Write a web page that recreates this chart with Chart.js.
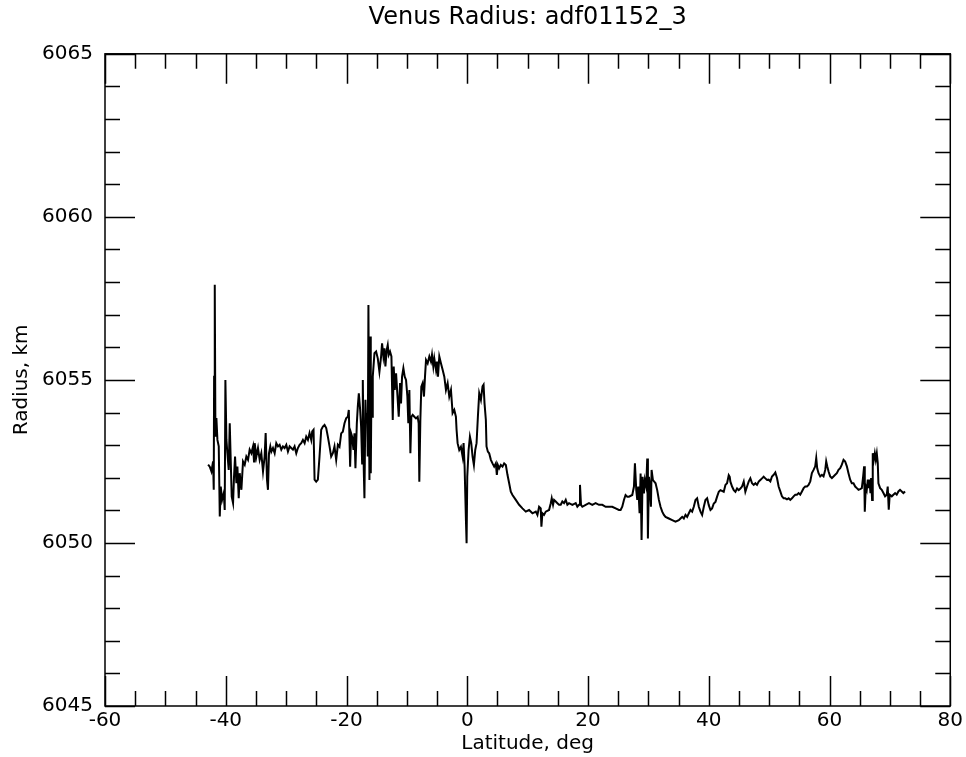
<!DOCTYPE html>
<html lang="en">
<head>
  <meta charset="UTF-8">
  <title>Venus Radius: adf01152_3</title>
  <script src="https://cdn.jsdelivr.net/npm/chart.js"></script>
  <style>
    body {
      margin: 0;
      background-color: #fff;
    }
    #wrap {
      width: 966px;
      height: 757px;
    }
  </style>
</head>
<body>
  <div id="wrap"><canvas id="radiusChart" width="966" height="757"></canvas></div>

  <script>
    const latTicks = [-60, -40, -20, 0, 20, 40, 60, 80];
    const radiusTicks = [6045, 6050, 6055, 6060, 6065];

    // latitude, deg
    const latitude = [
      -42.92, -42.65, -42.37, -42.10, -41.99, -41.93, -41.82, -41.71, -41.55, -41.38,
      -41.16, -40.99, -40.83, -40.61, -40.33, -40.17, -40.06, -39.89, -39.73, -39.51,
      -39.34, -39.18, -39.01, -38.79, -38.63, -38.46, -38.24, -38.07, -37.85, -37.69,
      -37.41, -37.14, -36.86, -36.59, -36.31, -36.04, -35.76, -35.48, -35.32, -35.21,
      -34.93, -34.66, -34.38, -34.11, -33.83, -33.56, -33.39, -33.17, -33.01, -32.84,
      -32.62, -32.45, -32.18, -31.90, -31.63, -31.35, -31.08, -30.80, -30.53, -30.25,
      -29.97, -29.70, -29.42, -29.15, -28.87, -28.60, -28.32, -28.05, -27.77, -27.50,
      -27.22, -26.94, -26.67, -26.39, -26.12, -25.84, -25.68, -25.46, -25.29, -25.02,
      -24.74, -24.47, -24.19, -23.91, -23.64, -23.36, -23.09, -22.81, -22.54, -22.26,
      -21.99, -21.71, -21.43,
      -21.16, -20.88, -20.61, -20.33, -20.06, -19.78, -19.62, -19.40, -19.23, -19.07,
      -18.85, -18.68, -18.52, -18.29, -18.13, -17.96, -17.74, -17.58, -17.41, -17.30,
      -17.14, -17.03, -16.86, -16.75, -16.59, -16.48, -16.37, -16.26, -16.20, -16.09,
      -15.98, -15.87, -15.76, -15.65, -15.37, -15.10, -14.82, -14.55, -14.27, -14.11,
      -13.89, -13.72, -13.56, -13.34, -13.17, -13.01, -12.79, -12.56, -12.34, -12.18,
      -12.01, -11.79, -11.52, -11.35, -11.13, -10.97, -10.80, -10.58, -10.36, -10.14,
      -9.92, -9.76, -9.59, -9.42, -9.26, -9.04, -8.76, -8.49, -8.21, -8.05,
      -7.94, -7.77, -7.61, -7.39, -7.17, -7.00, -6.83, -6.56, -6.28, -6.01,
      -5.84, -5.62, -5.46, -5.18, -5.02, -4.85, -4.63, -4.36, -4.08, -3.80,
      -3.53, -3.25, -2.98, -2.70, -2.43, -2.15, -1.88, -1.77, -1.60, -1.33,
      -1.05, -0.77, -0.61, -0.44, -0.22, -0.11, 0.00, 0.22, 0.44, 0.66,
      0.88, 1.10, 1.32, 1.54, 1.76, 1.98,
      2.26, 2.53, 2.70, 2.86, 3.08, 3.19, 3.41, 3.63, 3.91, 4.18,
      4.46, 4.73, 4.90, 5.07, 5.29, 5.56, 5.84, 6.11, 6.39, 6.66,
      6.94, 7.21, 7.49, 8.04, 8.59, 9.14, 9.69, 10.24, 10.80, 11.35,
      11.62, 11.90, 12.17, 12.28, 12.45, 12.72, 13.00, 13.55, 13.83, 13.99,
      14.21, 14.38, 14.65, 14.93, 15.20, 15.48, 15.75, 16.03, 16.31, 16.58,
      16.86, 17.41, 17.96, 18.23, 18.51, 18.67, 18.84, 19.06, 19.61, 20.16,
      20.71, 21.26, 21.81, 22.37, 22.92, 23.47, 24.02, 24.57, 25.12, 25.40,
      25.67, 25.95, 26.22, 26.50, 26.78,
      27.33, 27.61, 27.77, 27.99, 28.16, 28.32, 28.54, 28.71, 28.87, 29.04,
      29.26, 29.42, 29.64, 29.81, 29.92, 30.09, 30.25, 30.42, 30.53, 30.75,
      30.97, 31.19, 31.46, 31.74, 32.01, 32.29, 32.57, 32.84, 33.39, 33.94,
      34.49, 35.04, 35.32, 35.60, 35.87, 36.15, 36.42, 36.70, 36.97, 37.25,
      37.52, 37.80, 38.07, 38.35, 38.63, 38.90, 39.18, 39.45, 39.73, 40.00,
      40.28, 40.55, 40.83, 41.11, 41.38, 41.66, 41.93, 42.48, 42.76, 43.03,
      43.31, 43.47, 43.58, 43.86, 44.14, 44.41, 44.69, 44.96, 45.24, 45.51,
      45.79, 46.06, 46.34, 46.61, 46.89, 47.17, 47.44, 47.72, 47.99, 48.27,
      48.54, 48.82, 49.09, 49.37, 49.65, 49.92,
      50.20, 50.47, 50.75, 51.02, 51.30, 51.57, 51.85, 52.12, 52.40, 52.67,
      52.95, 53.23, 53.50, 53.78, 54.05, 54.33, 54.60, 54.88, 55.15, 55.43,
      55.71, 55.98, 56.26, 56.53, 56.81, 57.08, 57.36, 57.63, 57.80, 57.96,
      58.18, 58.46, 58.74, 59.01, 59.29, 59.45, 59.62, 59.84, 60.11, 60.39,
      60.66, 60.94, 61.21, 61.49, 61.77, 62.04, 62.32, 62.59, 62.87, 63.14,
      63.42, 63.69, 63.97, 64.25, 64.52, 64.80, 65.07, 65.35, 65.57, 65.73,
      65.84, 66.01, 66.17, 66.34, 66.45, 66.61, 66.78, 66.89, 67.05, 67.16,
      67.33, 67.50, 67.66, 67.83, 67.99, 68.10, 68.38, 68.65, 68.93, 69.20,
      69.48, 69.64, 69.81, 69.97, 70.31, 70.58, 70.86, 71.13, 71.41, 71.68,
      71.96, 72.23, 72.51
    ];

    // radius, km
    const radius = [
      6052.40, 6052.34, 6052.19, 6052.50, 6051.63, 6055.10, 6057.92, 6053.26, 6053.83, 6053.16,
      6052.96, 6050.81, 6051.73, 6051.32, 6051.53, 6051.01, 6055.00, 6053.16, 6052.75, 6052.24,
      6053.67, 6052.55, 6051.42, 6051.22, 6052.04, 6052.65, 6051.83, 6052.34, 6051.37, 6052.14,
      6051.63, 6052.50, 6052.40, 6052.65, 6052.55, 6052.86, 6052.75, 6052.96, 6052.50, 6053.06,
      6052.65, 6052.91, 6052.55, 6052.75, 6052.19, 6052.65, 6053.37, 6051.94, 6051.63, 6052.75,
      6052.96, 6052.80, 6052.91, 6052.75, 6053.06, 6052.96, 6053.01, 6052.86, 6052.96, 6052.91,
      6053.01, 6052.80, 6052.96, 6052.91, 6052.86, 6052.96, 6052.75, 6052.91, 6053.01, 6053.06,
      6053.16, 6053.06, 6053.26, 6053.16, 6053.37, 6053.16, 6053.42, 6053.47, 6051.94, 6051.88,
      6051.94, 6052.65, 6053.47, 6053.57, 6053.62, 6053.52, 6053.26, 6052.96, 6052.65, 6052.75,
      6052.96, 6052.55, 6053.01,
      6052.95, 6053.36, 6053.41, 6053.67, 6053.82, 6053.87, 6054.08, 6052.34, 6053.36, 6053.26,
      6052.85, 6053.36, 6052.29, 6053.67, 6054.18, 6054.59, 6054.08, 6053.57, 6052.44, 6055.00,
      6052.24, 6051.37, 6054.39, 6053.67, 6053.98, 6052.65, 6057.30, 6053.47, 6051.93, 6056.33,
      6052.14, 6054.69, 6053.87, 6055.10, 6055.82, 6055.87, 6055.66, 6055.25, 6055.72, 6056.12,
      6055.72, 6055.97, 6055.41, 6055.92, 6056.07, 6055.77, 6055.87, 6055.72, 6053.77, 6055.41,
      6054.69, 6055.20, 6054.39, 6053.87, 6054.90, 6054.28, 6055.10, 6055.36, 6055.10, 6055.00,
      6054.49, 6053.67, 6054.69, 6052.75, 6053.87, 6053.93, 6053.87, 6053.82, 6053.87, 6053.67,
      6051.88, 6053.77, 6054.79, 6054.90, 6054.49, 6055.10, 6055.61, 6055.51, 6055.72, 6055.56,
      6055.77, 6055.41, 6055.66, 6055.31, 6055.56, 6055.10, 6055.72, 6055.51, 6055.31, 6055.10,
      6054.69, 6054.90, 6054.49, 6054.69, 6053.98, 6054.08, 6053.87, 6053.47, 6053.06, 6052.85,
      6052.95, 6052.65, 6053.06, 6052.34, 6050.70, 6049.99, 6052.03, 6052.85, 6053.26, 6053.06,
      6052.65, 6052.39, 6052.85, 6053.06, 6053.87, 6054.59,
      6054.39, 6054.80, 6054.85, 6054.28, 6053.77, 6052.96, 6052.80, 6052.75, 6052.55, 6052.44,
      6052.34, 6052.44, 6052.09, 6052.39, 6052.29, 6052.39, 6052.34, 6052.44, 6052.39, 6052.09,
      6051.83, 6051.57, 6051.47, 6051.32, 6051.17, 6051.06, 6050.96, 6051.01, 6050.91, 6050.96,
      6050.86, 6051.11, 6051.06, 6050.50, 6050.91, 6050.86, 6050.96, 6051.01, 6051.22, 6051.37,
      6051.17, 6051.32, 6051.27, 6051.22, 6051.17, 6051.17, 6051.27, 6051.22, 6051.32, 6051.17,
      6051.22, 6051.17, 6051.22, 6051.11, 6051.17, 6051.78, 6051.17, 6051.11, 6051.17, 6051.22,
      6051.17, 6051.22, 6051.17, 6051.17, 6051.11, 6051.11, 6051.11, 6051.06, 6051.01, 6051.01,
      6051.11, 6051.32, 6051.47, 6051.42, 6051.42,
      6051.47, 6051.73, 6052.44, 6051.62, 6051.32, 6051.73, 6050.91, 6052.13, 6050.09, 6052.03,
      6051.52, 6051.93, 6051.73, 6052.59, 6050.14, 6052.03, 6051.73, 6051.11, 6052.24, 6051.93,
      6051.88, 6051.83, 6051.62, 6051.32, 6051.11, 6050.96, 6050.86, 6050.80, 6050.75, 6050.70,
      6050.65, 6050.70, 6050.75, 6050.80, 6050.75, 6050.86, 6050.80, 6050.91, 6051.01, 6050.96,
      6051.11, 6051.32, 6051.37, 6051.11, 6050.96, 6050.86, 6051.11, 6051.32, 6051.37, 6051.16,
      6051.01, 6051.06, 6051.21, 6051.26, 6051.42, 6051.57, 6051.62, 6051.57, 6051.78, 6051.83,
      6052.08, 6052.03, 6051.88, 6051.73, 6051.62, 6051.57, 6051.67, 6051.62, 6051.67, 6051.73,
      6051.88, 6051.57, 6051.73, 6051.88, 6051.98, 6051.83, 6051.78, 6051.83, 6051.78, 6051.88,
      6051.93, 6051.98, 6052.03, 6051.98, 6051.93, 6051.94,
      6051.89, 6052.04, 6052.09, 6052.16, 6051.99, 6051.73, 6051.58, 6051.43, 6051.37, 6051.37,
      6051.34, 6051.37, 6051.32, 6051.37, 6051.43, 6051.48, 6051.48, 6051.53, 6051.48, 6051.58,
      6051.68, 6051.73, 6051.73, 6051.78, 6051.89, 6052.14, 6052.24, 6052.35, 6052.60, 6052.29,
      6052.14, 6052.04, 6052.09, 6052.04, 6052.24, 6052.50, 6052.35, 6052.19, 6052.04, 6051.99,
      6052.04, 6052.09, 6052.14, 6052.24, 6052.29, 6052.40, 6052.55, 6052.50, 6052.35, 6052.14,
      6051.94, 6051.83, 6051.83, 6051.73, 6051.68, 6051.63, 6051.65, 6051.68, 6052.04, 6052.35,
      6050.96, 6051.73, 6051.63, 6051.94, 6051.68, 6051.94, 6051.53, 6051.99, 6051.32, 6052.75,
      6052.55, 6052.75, 6052.55, 6052.75, 6052.45, 6051.83, 6051.68, 6051.63, 6051.53, 6051.43,
      6051.48, 6051.73, 6051.02, 6051.48, 6051.43, 6051.48, 6051.53, 6051.48, 6051.58, 6051.63,
      6051.58, 6051.53, 6051.58
    ];

    const points = latitude.map((x, i) => ({ x: x, y: radius[i] }));

    const font = 'DejaVu Sans';

    // inward ticks on all four sides + frame, placed through the scales
    const frameTicks = {
      id: 'frameTicks',
      afterDraw(chart) {
        const ctx = chart.ctx;
        const a = chart.chartArea;
        const xs = chart.scales.x;
        const ys = chart.scales.y;
        ctx.save();
        ctx.strokeStyle = '#000';
        ctx.lineWidth = 1.5;
        ctx.strokeRect(a.left, a.top, a.right - a.left, a.bottom - a.top);
        ctx.beginPath();
        for (let v = xs.min; v <= xs.max; v += 5) {
          const len = v % 20 === 0 ? 30 : 15;
          const px = Math.round(xs.getPixelForValue(v)) + 0.5;
          ctx.moveTo(px, a.bottom); ctx.lineTo(px, a.bottom - len);
          ctx.moveTo(px, a.top); ctx.lineTo(px, a.top + len);
        }
        for (let v = ys.min; v <= ys.max; v += 1) {
          const len = v % 5 === 0 ? 30 : 15;
          const py = Math.round(ys.getPixelForValue(v)) + 0.5;
          ctx.moveTo(a.left, py); ctx.lineTo(a.left + len, py);
          ctx.moveTo(a.right, py); ctx.lineTo(a.right - len, py);
        }
        ctx.stroke();
        ctx.restore();
      }
    };

    new Chart(document.getElementById('radiusChart'), {
      type: 'line',
      data: {
        datasets: [{
          data: points,
          borderColor: '#000',
          borderWidth: 2,
          pointRadius: 0,
          tension: 0,
          fill: false
        }]
      },
      options: {
        responsive: false,
        animation: false,
        layout: { padding: { left: 0, right: 14, top: 0, bottom: 0 } },
        plugins: {
          legend: { display: false },
          tooltip: { enabled: false },
          title: {
            display: true,
            text: 'Venus Radius: adf01152_3',
            fullSize: false,
            color: '#000',
            font: { family: font, size: 24, weight: 'normal' },
            padding: { top: 3, bottom: 22 }
          }
        },
        scales: {
          x: {
            type: 'linear',
            min: -60,
            max: 80,
            afterBuildTicks: s => { s.ticks = latTicks.map(v => ({ value: v })); },
            afterFit: s => { s.height = 51; },
            grid: { display: false, drawTicks: false },
            border: { display: false },
            ticks: {
              color: '#000', padding: 3, maxRotation: 0,
              font: { family: font, size: 20 },
              callback: v => String(v)
            },
            title: {
              display: true,
              text: 'Latitude, deg',
              color: '#000',
              padding: { top: 0, bottom: 1 },
              font: { family: font, size: 20 }
            }
          },
          y: {
            type: 'linear',
            min: 6045,
            max: 6065,
            afterBuildTicks: s => { s.ticks = radiusTicks.map(v => ({ value: v })); },
            afterFit: s => { s.width = 105; },
            grid: { display: false, drawTicks: false },
            border: { display: false },
            ticks: {
              color: '#000', padding: 12,
              font: { family: font, size: 20 },
              callback: v => String(v)
            },
            title: {
              display: true,
              text: 'Radius, km',
              color: '#000',
              padding: { top: 10, bottom: 0 },
              font: { family: font, size: 20 }
            }
          }
        }
      },
      plugins: [frameTicks]
    });
  </script>
</body>
</html>
